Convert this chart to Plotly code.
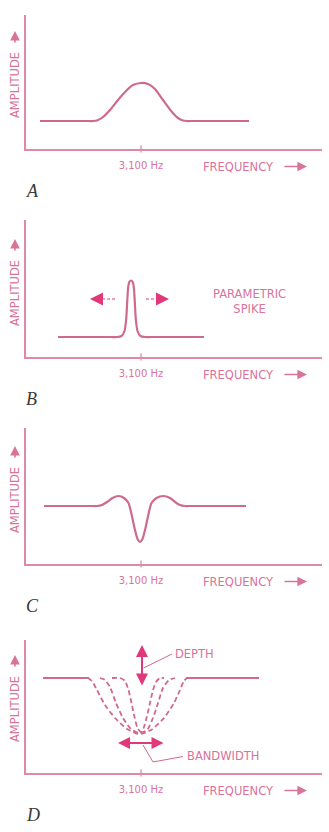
import plotly.graph_objects as go

# ---------------- data (frequency in Hz, amplitude in arbitrary units) ----------------
CENTER_HZ = 3100
tick_vals = [3100]
tick_text = ["3,100 Hz"]
panel_letters = ["A", "B", "C", "D"]

# Panel A: broad peak
a_freq = [2090, 2560, 2620, 2660, 2720, 2790, 2870, 2960, 3020, 3100, 3170, 3240, 3320, 3410, 3470, 3520, 3560, 3620, 4180]
a_amp = [2.8, 2.8, 2.8, 2.85, 3.2, 3.9, 4.9, 5.9, 6.4, 6.6, 6.5, 6.0, 4.9, 3.7, 3.1, 2.85, 2.8, 2.8, 2.8]

# Panel B: parametric spike
b_freq = [2270, 2800, 2860, 2905, 2935, 2952, 2962, 2971, 2983, 3000, 3017, 3029, 3038, 3048, 3065, 3095, 3140, 3200, 3730]
b_amp = [2.0, 2.0, 2.0, 2.1, 2.6, 3.8, 5.5, 6.9, 7.5, 7.65, 7.5, 6.9, 5.5, 3.8, 2.6, 2.1, 2.0, 2.0, 2.0]

# Panel C: notch with side bumps
c_freq = [2130, 2600, 2660, 2710, 2760, 2815, 2875, 2930, 2975, 3005, 3035, 3065, 3090, 3115, 3145, 3175, 3205,
          3255, 3325, 3390, 3440, 3490, 3540, 3600, 4150]
c_amp = [5.8, 5.8, 5.8, 5.9, 6.2, 6.6, 6.8, 6.6, 6.1, 5.0, 3.6, 2.5, 2.2, 2.5, 3.6, 5.0, 6.1,
         6.6, 6.8, 6.6, 6.2, 5.9, 5.8, 5.8, 5.8]

# Panel D: flat response plus three notch bandwidths
d_left_freq = [2120, 2580]
d_left_amp = [9.5, 9.5]
d_right_freq = [3550, 4280]
d_right_amp = [9.5, 9.5]
d_outer_freq = [2570, 2610, 2660, 2740, 2840, 2960, 3080, 3200, 3330, 3430, 3490, 3530, 3560]
d_outer_amp = [9.5, 9.2, 8.3, 6.8, 5.5, 4.4, 3.9, 4.3, 5.5, 7.0, 8.3, 9.2, 9.5]
d_mid_freq = [2690, 2740, 2790, 2850, 2920, 3000, 3080, 3160, 3220, 3270, 3320, 3380, 3440]
d_mid_amp = [9.5, 9.3, 8.6, 7.0, 5.5, 4.4, 4.0, 4.3, 5.5, 7.0, 8.5, 9.3, 9.5]
d_inner_freq = [2810, 2890, 2940, 2975, 3005, 3035, 3065, 3100, 3130, 3160, 3190, 3220, 3250, 3290, 3330]
d_inner_amp = [9.5, 9.5, 9.2, 8.3, 7.0, 5.6, 4.5, 4.1, 4.6, 5.7, 7.0, 8.3, 9.1, 9.5, 9.5]

# ---------------- style ----------------
W, H = 329, 832
LINE = "#cf6a8d"
AXIS = "#dc8aa6"
TEXT = "#d8739a"
ARROW = "#e0387a"
LETTER = "#3a3a3a"
SANS = "DejaVu Sans"

X_RANGE = [1945, 4910]
x_dom = [25.5 / W, 322 / W]
# panel pixel extents (top, bottom) of the y axis
panels_px = [(15, 149), (220, 357), (428, 564), (640, 773)]

fig = go.Figure()

def add_line(i, xs, ys, color=LINE, width=2.2, dash="solid"):
    fig.add_trace(go.Scatter(
        x=xs, y=ys, mode="lines", xaxis=f"x{i}" if i > 1 else "x", yaxis=f"y{i}" if i > 1 else "y",
        line=dict(color=color, width=width, dash=dash, shape="spline", smoothing=0.6),
        hoverinfo="skip", showlegend=False))

add_line(1, a_freq, a_amp)
add_line(2, b_freq, b_amp)
add_line(3, c_freq, c_amp)
add_line(4, d_left_freq, d_left_amp)
add_line(4, d_right_freq, d_right_amp)
for fx, fy in [(d_outer_freq, d_outer_amp), (d_mid_freq, d_mid_amp), (d_inner_freq, d_inner_amp)]:
    add_line(4, fx, fy, width=1.8, dash="5px,3px")

annotations = []
shapes = []
layout = dict(width=W, height=H, margin=dict(l=0, r=0, t=0, b=0),
              paper_bgcolor="white", plot_bgcolor="white", showlegend=False)

def py(p):
    return 1 - p / H

for k, (pt, pb) in enumerate(panels_px, start=1):
    xa = "xaxis" if k == 1 else f"xaxis{k}"
    ya = "yaxis" if k == 1 else f"yaxis{k}"
    xr = "x" if k == 1 else f"x{k}"
    yr = "y" if k == 1 else f"y{k}"
    ytop = (pb - pt) / 10.0
    layout[xa] = dict(domain=x_dom, range=X_RANGE, anchor=yr, showgrid=False, zeroline=False,
                      showline=True, linecolor=AXIS, linewidth=1.5, ticks="",
                      tickvals=tick_vals, ticktext=tick_text, ticklabelstandoff=6,
                      tickfont=dict(family=SANS, size=10, color=TEXT), fixedrange=True)
    layout[ya] = dict(domain=[py(pb), py(pt)], range=[0, ytop], anchor=xr, showgrid=False,
                      zeroline=False, showline=True, linecolor=AXIS, linewidth=1.5, ticks="",
                      showticklabels=False, fixedrange=True)
    # tick crossing the axis at 3,100 Hz
    shapes.append(dict(type="line", xref=xr, yref="paper", x0=CENTER_HZ, x1=CENTER_HZ,
                       y0=py(pb + 3.5), y1=py(pb - 3.5), line=dict(color=AXIS, width=1.3)))
    # FREQUENCY label and arrow
    annotations.append(dict(xref="paper", yref="paper", x=238 / W, y=py(pb + 17.5), text="FREQUENCY",
                            showarrow=False, font=dict(family=SANS, size=11.5, color=TEXT),
                            xanchor="center", yanchor="middle"))
    annotations.append(dict(xref="paper", yref="paper", x=307 / W, y=py(pb + 17.5), ax=-24, ay=0,
                            text="", showarrow=True, arrowhead=2, arrowsize=1.2, arrowwidth=1.6,
                            arrowcolor=TEXT))
    # AMPLITUDE label and arrow
    annotations.append(dict(xref="paper", yref="paper", x=15 / W, y=py(pb - 64), text="AMPLITUDE",
                            showarrow=False, textangle=-90,
                            font=dict(family=SANS, size=11.5, color=TEXT),
                            xanchor="center", yanchor="middle"))
    annotations.append(dict(xref="paper", yref="paper", x=15 / W, y=py(pb - 118), ax=0, ay=13,
                            text="", showarrow=True, arrowhead=2, arrowsize=1.2, arrowwidth=1.6,
                            arrowcolor=TEXT))
    # panel letter
    annotations.append(dict(xref="paper", yref="paper", x=24 / W, y=py(pb + 42),
                            text=f"<i>{panel_letters[k-1]}</i>", showarrow=False,
                            font=dict(family="Liberation Serif", size=18, color=LETTER),
                            xanchor="left", yanchor="middle"))

# Panel B annotations: PARAMETRIC SPIKE and moving arrows
annotations.append(dict(xref="x2", yref="y2", x=4180, y=5.55, text="PARAMETRIC<br>SPIKE", showarrow=False,
                        font=dict(family=SANS, size=11.5, color=TEXT), align="center",
                        xanchor="center", yanchor="middle"))
b_arrow_left = [2840, 2660]
b_arrow_right = [3150, 3310]
b_arrow_amp = 5.8
shapes.append(dict(type="line", xref="x2", yref="y2", x0=b_arrow_left[0], x1=b_arrow_left[1],
                   y0=b_arrow_amp, y1=b_arrow_amp, line=dict(color=ARROW, width=1.2, dash="3px,2px")))
shapes.append(dict(type="line", xref="x2", yref="y2", x0=b_arrow_right[0], x1=b_arrow_right[1],
                   y0=b_arrow_amp, y1=b_arrow_amp, line=dict(color=ARROW, width=1.2, dash="3px,2px")))
annotations.append(dict(xref="x2", yref="y2", x=2590, y=b_arrow_amp, axref="x2", ayref="y2",
                        ax=2680, ay=b_arrow_amp, text="", showarrow=True, arrowhead=2,
                        arrowsize=1.3, arrowwidth=2, arrowcolor=ARROW))
annotations.append(dict(xref="x2", yref="y2", x=3380, y=b_arrow_amp, axref="x2", ayref="y2",
                        ax=3290, ay=b_arrow_amp, text="", showarrow=True, arrowhead=2,
                        arrowsize=1.3, arrowwidth=2, arrowcolor=ARROW))

# Panel D annotations: DEPTH and BANDWIDTH
annotations.append(dict(xref="x4", yref="y4", x=3110, y=12.8, axref="x4", ayref="y4", ax=3110, ay=8.6,
                        text="", showarrow=True, arrowhead=2, startarrowhead=2, arrowside="end+start",
                        arrowsize=1.2, startarrowsize=1.2, arrowwidth=2, arrowcolor=ARROW))
annotations.append(dict(xref="x4", yref="y4", x=2870, y=3.0, axref="x4", ayref="y4", ax=3340, ay=3.0,
                        text="", showarrow=True, arrowhead=2, startarrowhead=2, arrowside="end+start",
                        arrowsize=1.2, startarrowsize=1.2, arrowwidth=2, arrowcolor=ARROW))
shapes.append(dict(type="path", xref="x4", yref="y4", path="M 3125 10.5 L 3410 11.9",
                   line=dict(color=LINE, width=1)))
shapes.append(dict(type="path", xref="x4", yref="y4", path="M 3120 2.8 L 3220 1.1 L 3520 1.65",
                   line=dict(color=LINE, width=1)))
annotations.append(dict(xref="x4", yref="y4", x=3420, y=11.9, text="DEPTH", showarrow=False,
                        font=dict(family=SANS, size=11.5, color=TEXT), xanchor="left", yanchor="middle"))
annotations.append(dict(xref="x4", yref="y4", x=3540, y=1.7, text="BANDWIDTH", showarrow=False,
                        font=dict(family=SANS, size=11.5, color=TEXT), xanchor="left", yanchor="middle"))

layout["annotations"] = annotations
layout["shapes"] = shapes
fig.update_layout(**layout)
fig.write_html("out.html")
